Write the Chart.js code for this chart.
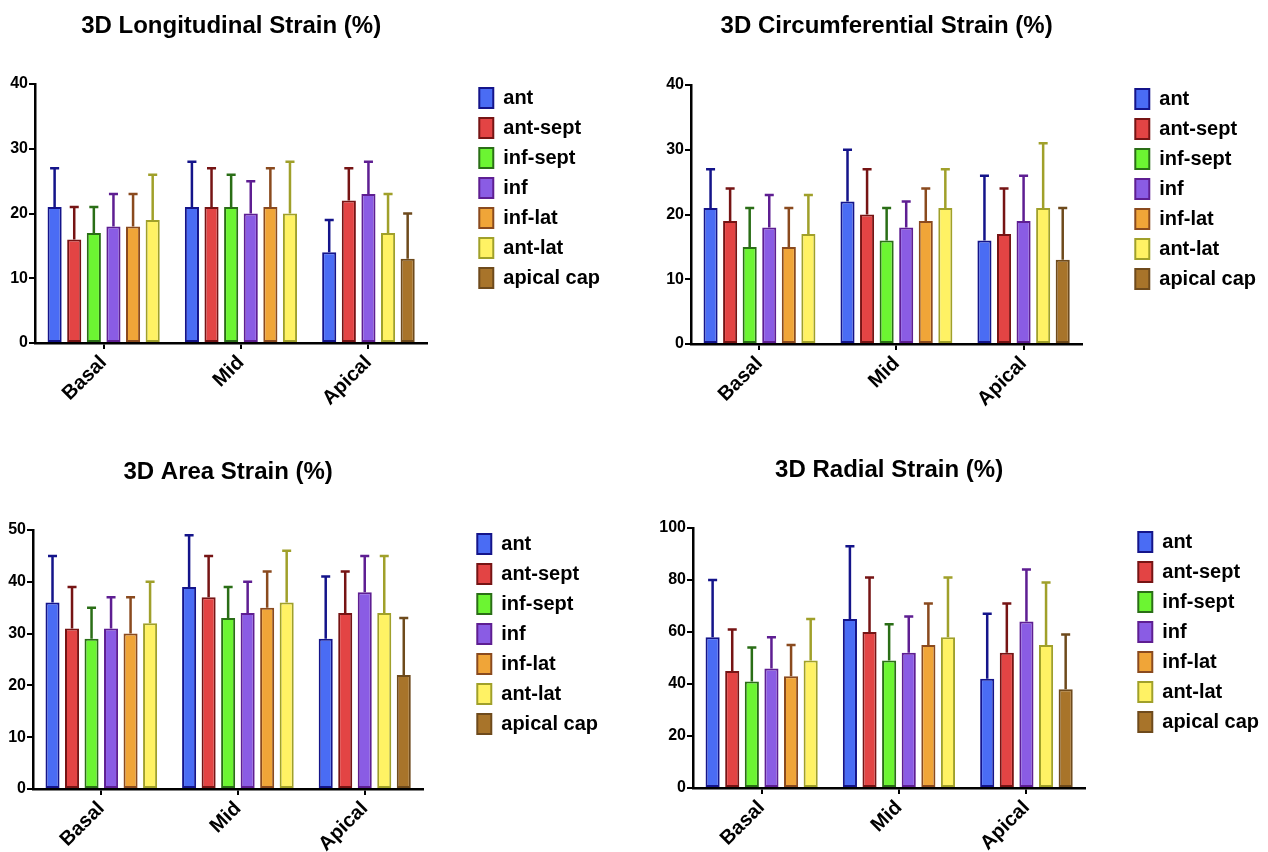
<!DOCTYPE html>
<html>
<head>
<meta charset="utf-8">
<script src="https://cdn.jsdelivr.net/npm/chart.js@4.4.1/dist/chart.umd.min.js"></script>
<style>
  body { margin: 0; background: #fff; overflow: hidden; }
  .panel { position: absolute; }
</style>
</head>
<body>
<div class="panel" style="left:0px;top:0px"><canvas id="longChart" width="610" height="410"></canvas></div>
<div class="panel" style="left:634px;top:0px"><canvas id="circChart" width="632" height="410"></canvas></div>
<div class="panel" style="left:0px;top:446px"><canvas id="areaChart" width="608" height="410"></canvas></div>
<div class="panel" style="left:634px;top:444px"><canvas id="radChart" width="635" height="410"></canvas></div>
<script>
const categories = ['Basal', 'Mid', 'Apical'];
const segments = ['ant', 'ant-sept', 'inf-sept', 'inf', 'inf-lat', 'ant-lat', 'apical cap'];

// one row per segment: [Basal, Mid, Apical]
const longMean = [[21, 21, 14], [16, 21, 22], [17, 21, null], [18, 20, 23], [18, 21, null], [19, 20, 17], [null, null, 13]];
const longSD   = [[6, 7, 5], [5, 6, 5], [4, 5, null], [5, 5, 5], [5, 6, null], [7, 8, 6], [null, null, 7]];

const circMean = [[21, 22, 16], [19, 20, 17], [15, 16, null], [18, 18, 19], [15, 19, null], [17, 21, 21], [null, null, 13]];
const circSD   = [[6, 8, 10], [5, 7, 7], [6, 5, null], [5, 4, 7], [6, 5, null], [6, 6, 10], [null, null, 8]];

const areaMean = [[36, 39, 29], [31, 37, 34], [29, 33, null], [31, 34, 38], [30, 35, null], [32, 36, 34], [null, null, 22]];
const areaSD   = [[9, 10, 12], [8, 8, 8], [6, 6, null], [6, 6, 7], [7, 7, null], [8, 10, 11], [null, null, 11]];

const radMean = [[58, 65, 42], [45, 60, 52], [41, 49, null], [46, 52, 64], [43, 55, null], [49, 58, 55], [null, null, 38]];
const radSD   = [[22, 28, 25], [16, 21, 19], [13, 14, null], [12, 14, 20], [12, 16, null], [16, 23, 24], [null, null, 21]];

const fills = ['#4a6cf4', '#e34444', '#6cf532', '#8a5ce4', '#f0a538', '#fff264', '#a8742a'];
const edges = ['#14148a', '#761414', '#2a6e16', '#5e1e92', '#8a4a1e', '#a0a02a', '#6e4a1c'];

const font = "'Liberation Sans', Arial, Helvetica, sans-serif";

// category axis where each group gets (bars + 1) slots, like Prism packs its groups
class GroupedCategoryScale extends Chart.CategoryScale {
  slotWeights() {
    const ds = this.chart.data.datasets;
    return this.chart.data.labels.map((l, i) =>
      1 + ds.filter(d => d.data[i] !== null && d.data[i] !== undefined).length);
  }
  slotSize() {
    const w = this.slotWeights();
    return this.width / w.reduce((a, b) => a + b, 0);
  }
  getPixelForValue(value) {
    if (typeof value !== 'number') value = this.parse(value);
    if (value === null || value === undefined || isNaN(value)) return NaN;
    const w = this.slotWeights();
    const total = w.reduce((a, b) => a + b, 0);
    let before = 0;
    for (let i = 0; i < value; i++) before += w[i];
    return this.getPixelForDecimal((before + w[value] / 2) / total);
  }
}
GroupedCategoryScale.id = 'groupedCategory';
GroupedCategoryScale.defaults = Chart.CategoryScale.defaults;
Chart.register(GroupedCategoryScale);

// bars sit one slot apart, whatever the number of bars in the group
class GapBarController extends Chart.BarController {
  _calculateBarIndexPixels(index, ruler) {
    const px = super._calculateBarIndexPixels(index, ruler);
    const pitch = this._cachedMeta.iScale.slotSize();
    const chunk = ruler.min * this.options.categoryPercentage / this._getStackCount(index);
    const k = pitch / chunk;
    const mid = ruler.pixels[index];
    const center = mid + (px.center - mid) * k;
    const size = px.size * k;
    return { base: center - size / 2, head: center + size / 2, center: center, size: size };
  }
}
GapBarController.id = 'gapBar';
GapBarController.defaults = Chart.BarController.defaults;
GapBarController.overrides = Chart.BarController.overrides;
Chart.register(GapBarController);

// upper error bars only
const errorBars = {
  id: 'errorBars',
  afterDatasetsDraw(chart) {
    const ctx = chart.ctx;
    const yScale = chart.scales.y;
    chart.data.datasets.forEach((ds, i) => {
      const meta = chart.getDatasetMeta(i);
      meta.data.forEach((bar, j) => {
        const v = ds.data[j];
        if (v === null || v === undefined) return;
        const top = yScale.getPixelForValue(v + ds.sd[j]);
        const cap = bar.width * 0.32;
        ctx.save();
        ctx.strokeStyle = ds.borderColor;
        ctx.lineWidth = 2.5;
        ctx.beginPath();
        ctx.moveTo(bar.x, bar.y);
        ctx.lineTo(bar.x, top);
        ctx.moveTo(bar.x - cap, top);
        ctx.lineTo(bar.x + cap, top);
        ctx.stroke();
        ctx.restore();
      });
    });
  }
};

function makeChart(id, title, means, sds, yMax, yStep, axisWidth, gapRight, plotTop, plotBottom) {
  const canvas = document.getElementById(id);
  const datasets = segments.map((name, i) => ({
    label: name,
    data: means[i],
    sd: sds[i],
    backgroundColor: fills[i],
    borderColor: edges[i],
    borderWidth: 2,
    borderSkipped: false,
    skipNull: true,
    barPercentage: 0.72,
    categoryPercentage: 0.9
  }));

  new Chart(canvas, {
    type: 'gapBar',
    data: { labels: categories, datasets: datasets },
    options: {
      responsive: false,
      animation: false,
      devicePixelRatio: 1,
      layout: { padding: 0 },
      scales: {
        x: {
          type: 'groupedCategory',
          offset: true,
          grid: { offset: false, drawOnChartArea: false, drawTicks: true, tickLength: 6, color: '#000', lineWidth: 2 },
          border: { display: true, color: '#000', width: 2.5 },
          ticks: { color: '#000', font: { family: font, size: 20, weight: 'bold' }, minRotation: 45, maxRotation: 45, padding: 2 },
          afterFit: (s) => { s.height = canvas.height - plotBottom; }
        },
        y: {
          type: 'linear',
          min: 0,
          max: yMax,
          ticks: { stepSize: yStep, color: '#000', font: { family: font, size: 16, weight: 'bold' }, padding: 1 },
          grid: { drawOnChartArea: false, drawTicks: true, tickLength: 6, color: '#000', lineWidth: 2 },
          border: { display: true, color: '#000', width: 2.5 },
          afterFit: (s) => { s.width = axisWidth; }
        },
        spacer: {
          type: 'linear',
          position: 'right',
          display: true,
          grid: { display: false },
          border: { display: false },
          ticks: { display: false },
          afterFit: (s) => { s.width = gapRight; }
        }
      },
      plugins: {
        title: {
          display: true,
          text: title,
          fullSize: false,
          color: '#000',
          font: { family: font, size: 24, weight: 'bold', lineHeight: 1.2 },
          padding: { top: 11.5, bottom: plotTop - 11.5 - 24 * 1.2 }
        },
        legend: {
          display: true,
          position: 'right',
          align: 'start',
          fullSize: true,
          maxWidth: 200,
          title: { display: true, text: '', font: { size: 10, lineHeight: 1 }, padding: { top: plotTop - 16, bottom: 0 } },
          labels: {
            boxWidth: 14,
            boxHeight: 20,
            padding: 10,
            color: '#000',
            font: { family: font, size: 20, weight: 'bold' }
          }
        },
        tooltip: { enabled: false }
      }
    },
    plugins: [errorBars]
  });
}

makeChart('longChart', '3D Longitudinal Strain (%)', longMean, longSD, 40, 10, 35, 42, 84, 343);
makeChart('circChart', '3D Circumferential Strain (%)', circMean, circSD, 40, 10, 57, 43, 85, 344);
makeChart('areaChart', '3D Area Strain (%)', areaMean, areaSD, 50, 10, 33, 44, 84, 343);
makeChart('radChart', '3D Radial Strain (%)', radMean, radSD, 100, 20, 59, 43, 84, 344);
</script>
</body>
</html>
